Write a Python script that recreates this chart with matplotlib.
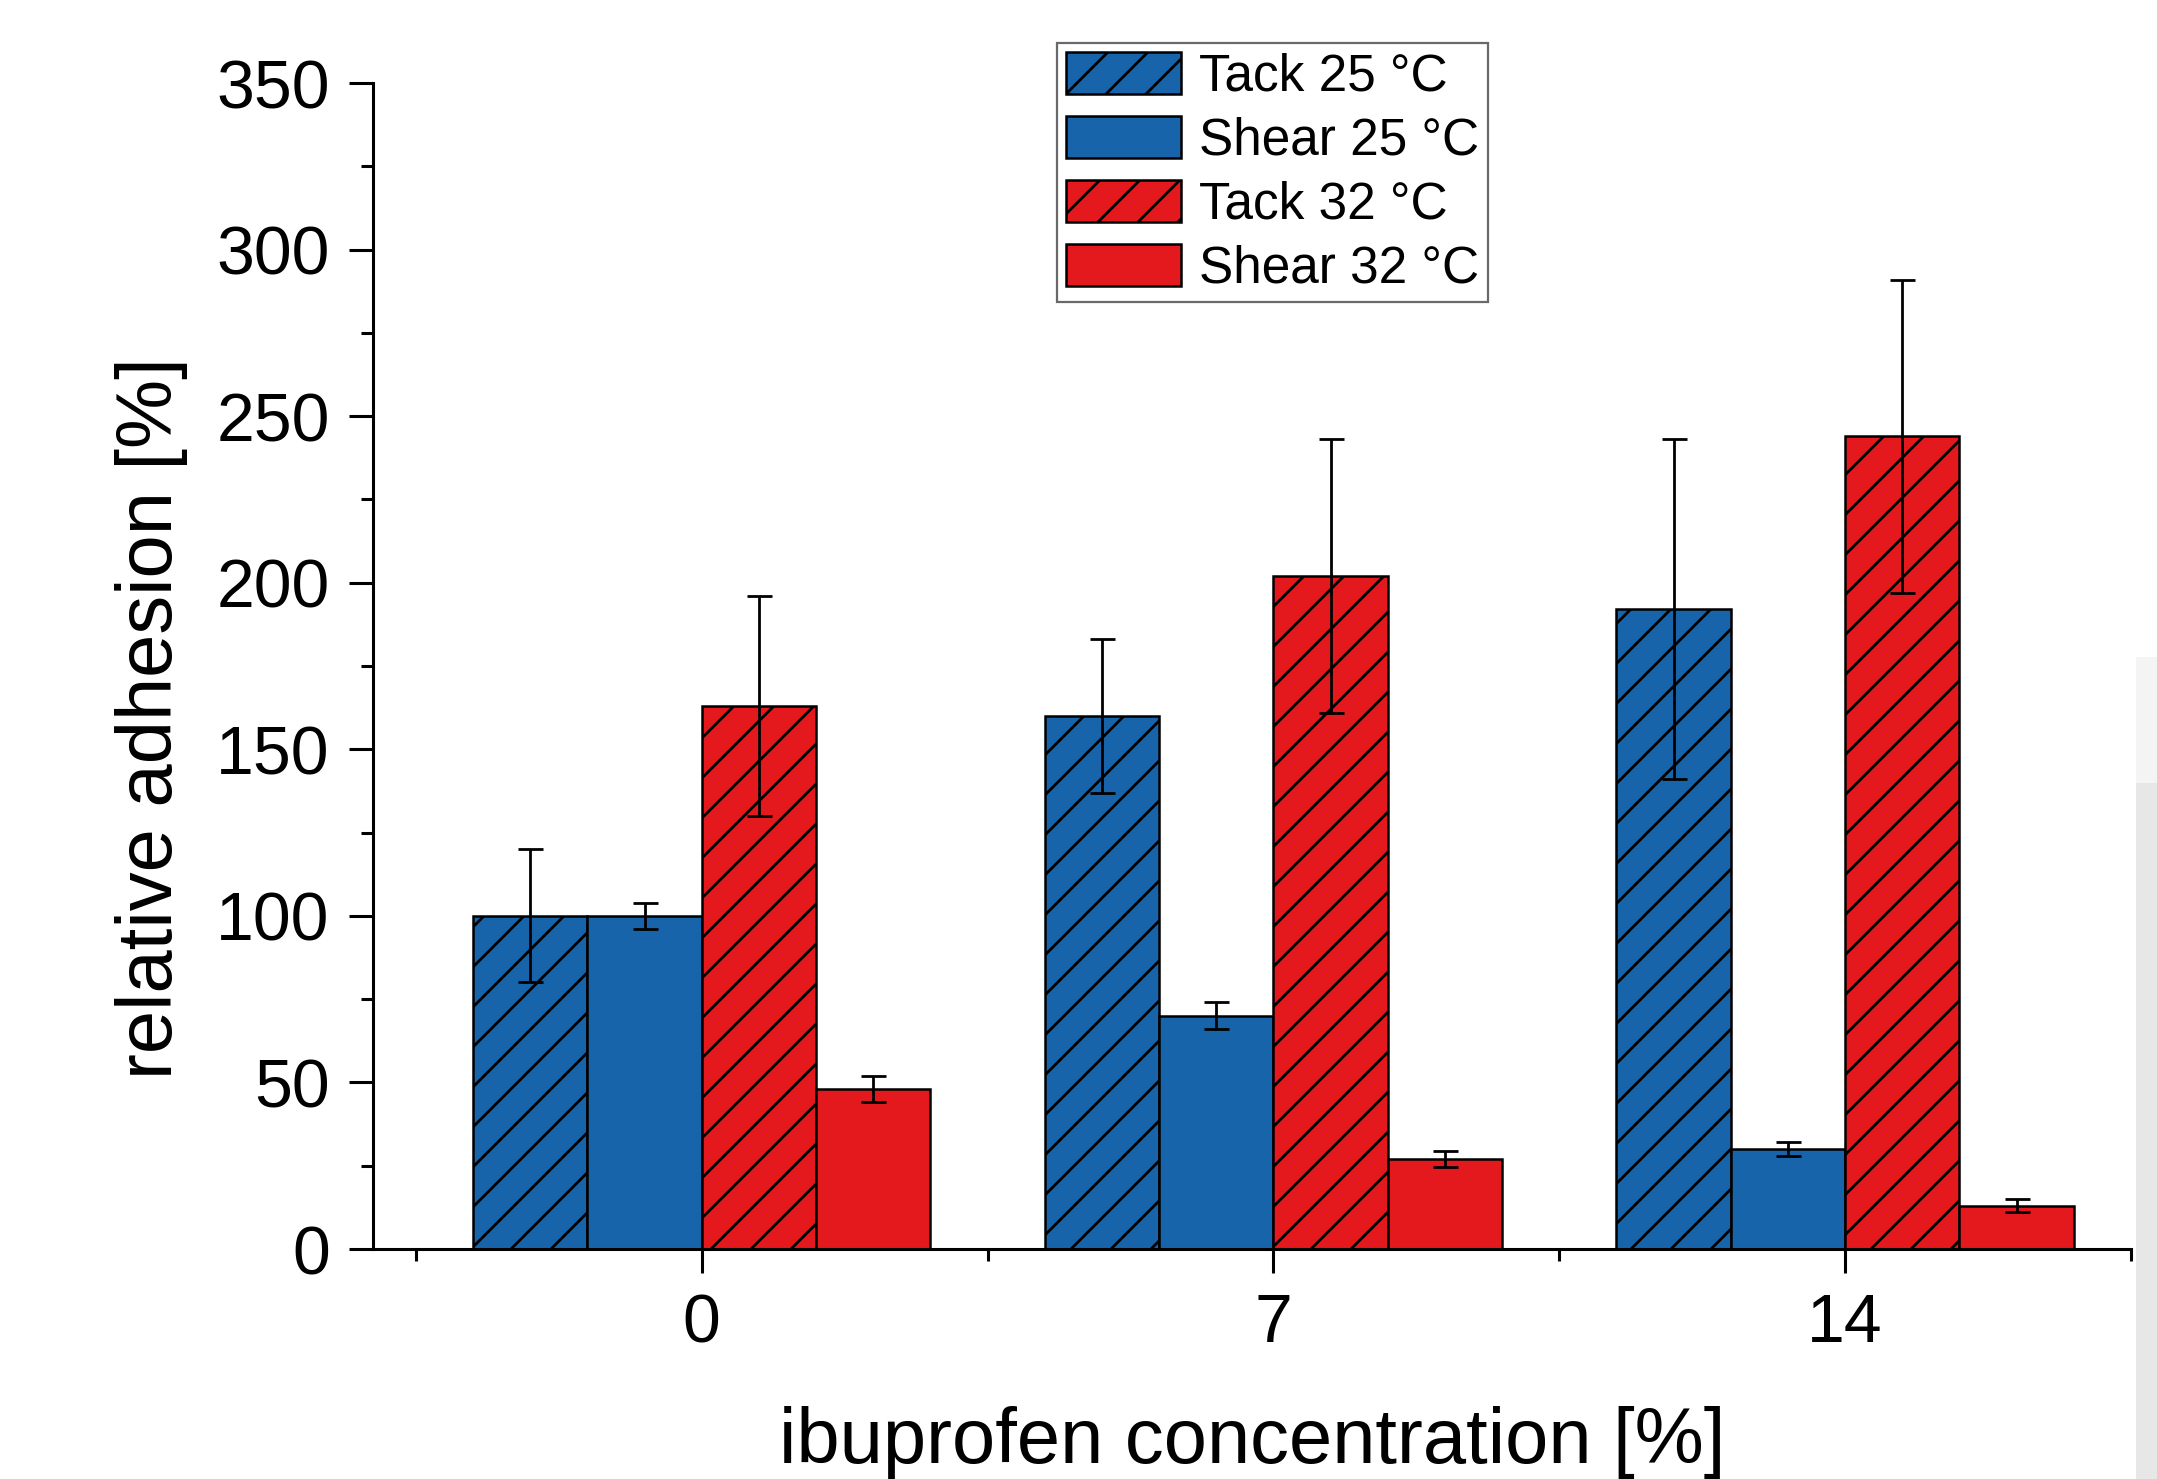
import matplotlib
matplotlib.use('Agg')
import matplotlib.pyplot as plt
import numpy as np
from matplotlib.patches import Rectangle
from matplotlib.ticker import MultipleLocator, FixedLocator

# ---- data ----
categories = ['0', '7', '14']
tack25 = [100, 160, 192]
tack25_err = [20, 23, 51]
shear25 = [100, 70, 30]
shear25_err = [4, 4, 2]
tack32 = [163, 202, 244]
tack32_err = [33, 41, 47]
shear32 = [48, 27, 13]
shear32_err = [4, 2.5, 2]
labels = ['Tack 25 °C', 'Shear 25 °C', 'Tack 32 °C', 'Shear 32 °C']

DPI = 240
k = 200 / DPI  # point-size scale so pixel sizes stay the same

plt.rcParams['font.family'] = ['Liberation Sans', 'DejaVu Sans']
plt.rcParams['hatch.linewidth'] = 1.0 * k

BLUE = '#1864ab'
RED = '#e3191e'
HATCH = '//'

fig = plt.figure(figsize=((2157 + 0.01) / DPI, (1479 + 0.01) / DPI), dpi=DPI)
# background artifact strip at right edge
fig.patches.append(Rectangle((2136/2157, 0), 1, 1 - 783/1479, transform=fig.transFigure,
                             facecolor='#e7e7e7', edgecolor='none', zorder=0))
fig.patches.append(Rectangle((2136/2157, 1 - 783/1479), 1, (783-657)/1479, transform=fig.transFigure,
                             facecolor='#f4f4f4', edgecolor='none', zorder=0))

ax = fig.add_axes([373/2157, 1 - 1249/1479, (2131-373)/2157, (1249-83)/1479])
ax.set_facecolor('none')

x = np.arange(len(categories))
w = 0.2
series = [
    (tack25, tack25_err, BLUE, HATCH, labels[0], -0.3),
    (shear25, shear25_err, BLUE, None, labels[1], -0.1),
    (tack32, tack32_err, RED, HATCH, labels[2], 0.1),
    (shear32, shear32_err, RED, None, labels[3], 0.3),
]
handles = []
for vals, err, col, hatch, lab, off in series:
    b = ax.bar(x + off, vals, w, color=col, edgecolor='black', linewidth=0.9 * k,
               hatch=hatch, label=lab, zorder=2)
    handles.append(b)
    ax.errorbar(x + off, vals, yerr=err, fmt='none', ecolor='black',
                elinewidth=1.0 * k, capsize=4.5 * k, capthick=1.0 * k, zorder=3)

ax.set_xlim(-0.575, 2.5)
ax.set_ylim(0, 350)
ax.set_xticks(x)
ax.set_xticklabels(categories)
ax.xaxis.set_minor_locator(FixedLocator([-0.5, 0.5, 1.5, 2.5]))
ax.yaxis.set_major_locator(MultipleLocator(50))
ax.yaxis.set_minor_locator(MultipleLocator(25))

for s in ['top', 'right']:
    ax.spines[s].set_visible(False)
for s in ['left', 'bottom']:
    ax.spines[s].set_linewidth(1.1 * k)

ax.tick_params(axis='both', which='major', length=8.6 * k, width=1.1 * k,
               labelsize=24.5 * k, pad=7 * k, direction='out')
ax.tick_params(axis='both', which='minor', length=4.3 * k, width=1.1 * k, direction='out')

ax.set_xlabel('ibuprofen concentration [%]', fontsize=28 * k)
ax.set_ylabel('relative adhesion [%]', fontsize=28 * k)
ax.xaxis.set_label_coords(0.5, (1249 - 1406) / 1166)
ax.yaxis.set_label_coords((188 - 373) / 1758, 0.455)

leg = ax.legend(handles=handles, loc='upper left', bbox_to_anchor=(1057/2157, 1 - 43/1479),
                bbox_transform=fig.transFigure, fontsize=18.5 * k, frameon=True, fancybox=False,
                edgecolor='#444444', borderaxespad=0, borderpad=0.17, handlelength=2.24,
                handleheight=0.9, handletextpad=0.35, labelspacing=0.27)
leg.get_frame().set_linewidth(0.8 * k)

fig.savefig('out.png', dpi=DPI)
